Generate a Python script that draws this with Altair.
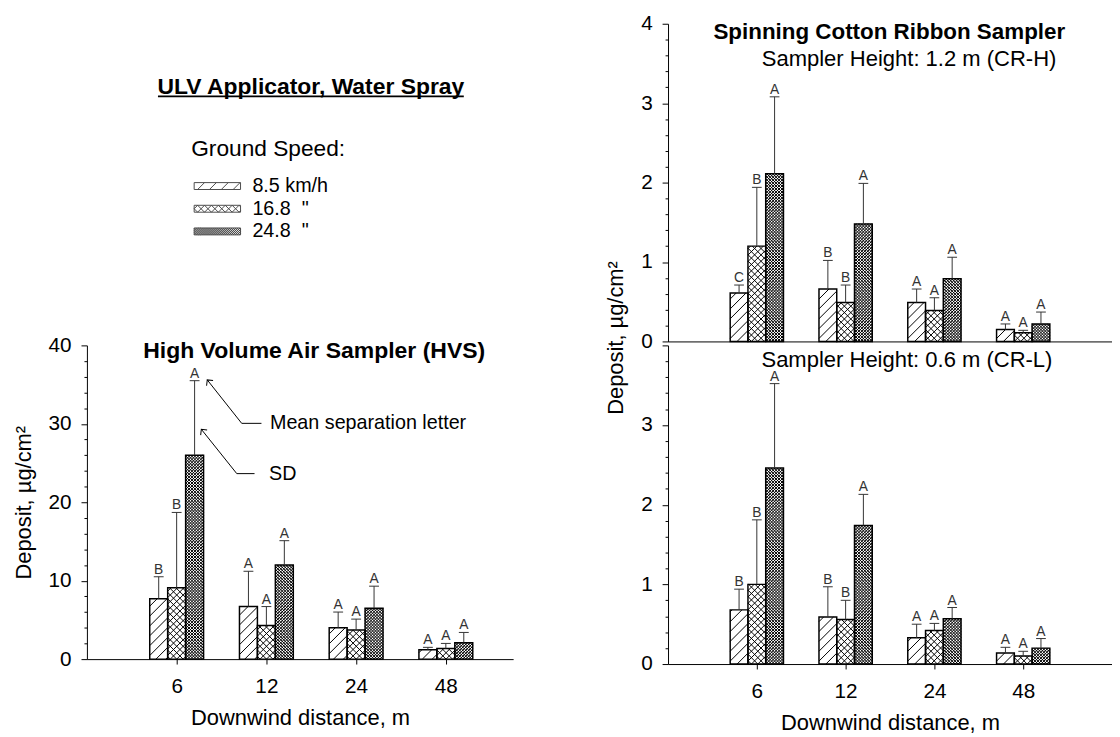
import math
import json
import pandas as pd
import altair as alt

FONT = "Liberation Sans"

# ---------------- data ----------------
distances = ["6", "12", "24", "48"]
speeds = ["8.5 km/h", "16.8\u00a0\u00a0\"", "24.8\u00a0\u00a0\""]

# High Volume Air Sampler (HVS), µg/cm²
hvs_mean_85 = [7.7, 6.7, 4.0, 1.2]
hvs_mean_168 = [9.1, 4.3, 3.7, 1.35]
hvs_mean_248 = [26.0, 12.0, 6.5, 2.1]
hvs_sd_85 = [2.8, 4.5, 2.0, 0.3]
hvs_sd_168 = [9.6, 2.4, 1.4, 0.65]
hvs_sd_248 = [9.5, 3.1, 2.8, 1.3]
hvs_let_85 = ["B", "A", "A", "A"]
hvs_let_168 = ["B", "A", "A", "A"]
hvs_let_248 = ["A", "A", "A", "A"]

# Cotton ribbon, 1.2 m (CR-H)
crh_mean_85 = [0.61, 0.66, 0.49, 0.15]
crh_mean_168 = [1.20, 0.49, 0.39, 0.11]
crh_mean_248 = [2.11, 1.48, 0.79, 0.22]
crh_sd_85 = [0.10, 0.36, 0.17, 0.07]
crh_sd_168 = [0.74, 0.22, 0.16, 0.03]
crh_sd_248 = [0.97, 0.51, 0.27, 0.15]
crh_let_85 = ["C", "B", "A", "A"]
crh_let_168 = ["B", "B", "A", "A"]
crh_let_248 = ["A", "A", "A", "A"]

# Cotton ribbon, 0.6 m (CR-L)
crl_mean_85 = [0.68, 0.59, 0.33, 0.14]
crl_mean_168 = [1.00, 0.56, 0.42, 0.10]
crl_mean_248 = [2.46, 1.74, 0.57, 0.20]
crl_sd_85 = [0.26, 0.38, 0.17, 0.07]
crl_sd_168 = [0.81, 0.24, 0.09, 0.06]
crl_sd_248 = [1.06, 0.39, 0.14, 0.12]
crl_let_85 = ["B", "B", "A", "A"]
crl_let_168 = ["B", "B", "A", "A"]
crl_let_248 = ["A", "A", "A", "A"]

# annotation (HVS panel, data units)
ann_labels = ["Mean separation letter", "SD"]
ann_text_x = [2.04, 2.03]
ann_text_y = [30.06, 23.65]
ann_end_x = [1.945, 1.868]
ann_elbow_x = [1.725, 1.670]
ann_tip_x = [1.341, 1.275]
ann_tip_y = [35.6, 29.3]

# ---------------- layout constants ----------------
BAR_W = 0.2
CAP = 0.055
L_W, L_H, L_XMAX, L_YMAX = 432, 318, 4.75, 40
R_W, R_H1, R_H2, R_XMAX, R_YMAX = 450, 322, 323, 5.0, 4
HEADER_H = 326

# hatch styles: (direction, step px, line width)
PATTERNS = [
    [("/", 10.0, 1.0)],
    [("/", 6.5, 1.0), ("\\", 6.5, 1.0)],
    [("/", 3.0, 1.0), ("\\", 3.0, 1.0)],
]
LEGEND_PATTERNS = [
    [("/", 12.0)],
    [("/", 7.0), ("\\", 7.0)],
    [("/", 2.0), ("\\", 2.0)],
]


def family(X0, X1, Y0, Y1, step, direction):
    segs = []
    if direction == "/":
        cmin, cmax = Y0 - X1, Y1 - X0
        for k in range(math.ceil(cmin / step), math.floor(cmax / step) + 1):
            c = k * step
            xa, xb = max(X0, Y0 - c), min(X1, Y1 - c)
            if xb - xa > 0.2:
                segs.append((xa, xa + c, xb, xb + c))
    else:
        cmin, cmax = X0 + Y0, X1 + Y1
        for k in range(math.ceil(cmin / step), math.floor(cmax / step) + 1):
            c = k * step
            xa, xb = max(X0, c - Y1), min(X1, c - Y0)
            if xb - xa > 0.2:
                segs.append((xa, c - xa, xb, c - xb))
    return segs


def panel_df(means, sds, lets):
    rows = []
    for j in range(3):
        for i in range(4):
            xpos = (i + 1) + (j - 1) * BAR_W
            rows.append(dict(dist=distances[i], speed=speeds[j], j=j, xpos=xpos,
                             x0=xpos - BAR_W / 2, x1=xpos + BAR_W / 2,
                             mean=means[j][i], top=means[j][i] + sds[j][i], zero=0.0,
                             letter=lets[j][i], capl=xpos - CAP, capr=xpos + CAP))
    return pd.DataFrame(rows)


def hatch_df(df, sx, sy):
    segs = []
    for r in df.itertuples():
        X0, X1, Y0, Y1 = r.x0 * sx, r.x1 * sx, 0.0, r.mean * sy
        for direction, step, w in PATTERNS[r.j]:
            for xa, ya, xb, yb in family(X0, X1, Y0, Y1, step, direction):
                segs.append(dict(xa=xa / sx, ya=ya / sy, xb=xb / sx, yb=yb / sy, w=w))
    return pd.DataFrame(segs)


def swatch_path(j, X0=-7.0, W=47.0, H=7.0):
    parts = [f"M{X0},{-H/2}H{X0 + W}V{H/2}H{X0}Z"]
    for direction, step in LEGEND_PATTERNS[j]:
        for xa, ya, xb, yb in family(X0, X0 + W, -H / 2, H / 2, step, direction):
            parts.append(f"M{xa:.2f},{-ya:.2f}L{xb:.2f},{-yb:.2f}")
    return "".join(parts)


label_expr_x = json.dumps([""] + distances) + "[datum.value]"


def bar_layers(df, sx, sy, X, Y):
    """X(field) / Y(field) build encodings sharing one scale and axis."""
    base = alt.Chart(df)
    hdf = hatch_df(df, sx, sy)
    fill = base.mark_rect(fill="white", strokeWidth=0).encode(
        x=X("x0"), x2="x1:Q", y=Y("mean"), y2="zero:Q")
    hatch = alt.Chart(hdf).mark_rule(color="black", strokeCap="butt").encode(
        x=X("xa"), x2="xb:Q", y=Y("ya"), y2="yb:Q",
        strokeWidth=alt.StrokeWidth("w:Q", scale=None))
    outline = base.mark_rect(fill="white", fillOpacity=0, stroke="black", strokeWidth=1.5).encode(
        x=X("x0"), x2="x1:Q", y=Y("mean"), y2="zero:Q")
    err = base.mark_rule(color="#333333", strokeWidth=1).encode(
        x=X("xpos"), y=Y("mean"), y2="top:Q")
    cap = base.mark_rule(color="#333333", strokeWidth=1).encode(
        x=X("capl"), x2="capr:Q", y=Y("top"))
    let = base.mark_text(fontSize=14, baseline="alphabetic", dy=-3, color="#333333").encode(
        x=X("xpos"), y=Y("top"), text="letter:N")
    return [fill, hatch, outline, err, cap, let]


def text_layer(txt, x, y, size, bold=False, align="left"):
    return alt.Chart(pd.DataFrame({"t": [txt]})).mark_text(
        align=align, baseline="alphabetic", fontSize=size,
        fontWeight="bold" if bold else "normal", color="black").encode(
        x=alt.value(x), y=alt.value(y), text="t:N")


def x_axis_full():
    return alt.Axis(values=[1, 2, 3, 4], labelExpr=label_expr_x, title="Downwind distance, m",
                    tickSize=5, labelPadding=12, titlePadding=10, labelFontSize=21,
                    titleFontSize=22.2, grid=False, labelFlush=False, labelOverlap=False)


def y_axis(values, major_test, label_test, title=None, title_y=None):
    kw = dict(values=values,
              labelExpr=f"({label_test}) ? format(datum.value, 'd') : ''",
              tickSize={"condition": {"test": major_test, "value": 6}, "value": 3},
              labelPadding=10, labelFontSize=21, grid=False, labelFlush=False,
              labelOverlap=False, titleFontSize=22.2, titlePadding=13)
    kw["title"] = title
    if title is not None and title_y is not None:
        kw["titleY"] = title_y
        kw["titleAlign"] = "center"
    return alt.Axis(**kw)


def make_xy(xscale, yscale, xaxis, yaxis):
    def X(f):
        return alt.X(f"{f}:Q", scale=xscale, axis=xaxis)

    def Y(f):
        return alt.Y(f"{f}:Q", scale=yscale, axis=yaxis)
    return X, Y


# ---------------- HVS panel ----------------
hvs = panel_df([hvs_mean_85, hvs_mean_168, hvs_mean_248],
               [hvs_sd_85, hvs_sd_168, hvs_sd_248],
               [hvs_let_85, hvs_let_168, hvs_let_248])
lx = alt.Scale(domain=[0, L_XMAX], nice=False, zero=False)
ly = alt.Scale(domain=[0, L_YMAX], nice=False)
LX, LY = make_xy(lx, ly, x_axis_full(),
                 y_axis(list(range(0, 41, 2)), "datum.value % 10 === 0",
                        "datum.value % 10 === 0", title="Deposit, µg/cm²"))
l_layers = bar_layers(hvs, L_W / L_XMAX, L_H / L_YMAX, LX, LY)

ann = pd.DataFrame({"label": ann_labels, "tx": ann_text_x, "ty": ann_text_y,
                    "ex": ann_end_x, "bx": ann_elbow_x, "px": ann_tip_x, "py": ann_tip_y})
ann_h = alt.Chart(ann).mark_rule(color="black", strokeWidth=1).encode(
    x=LX("ex"), x2="bx:Q", y=LY("ty"))
ann_d = alt.Chart(ann).mark_rule(color="black", strokeWidth=1).encode(
    x=LX("bx"), x2="px:Q", y=LY("ty"), y2="py:Q")
ann_head = alt.Chart(ann).mark_point(shape="M-1,1L0,0L1,1", size=70, angle=321.5,
                                     filled=False, color="black", strokeWidth=1, opacity=1).encode(
    x=LX("px"), y=LY("py"))
ann_t = alt.Chart(ann).mark_text(align="left", baseline="middle", fontSize=20, color="black").encode(
    x=LX("tx"), y=LY("ty"), text="label:N")

hvs_chart = alt.layer(*l_layers, ann_h, ann_d, ann_head, ann_t,
                      text_layer("High Volume Air Sampler (HVS)", 57, 12.5, 23.3, bold=True)
                      ).properties(width=L_W, height=L_H)

# ---------------- header (title + legend) ----------------
paths = [swatch_path(j) for j in range(3)]
legend_pts = alt.Chart(pd.DataFrame({"speed": speeds})).transform_filter("false").mark_point(
    color="black", filled=False).encode(
    x=alt.value(0), y=alt.value(0),
    shape=alt.Shape("speed:N", scale=alt.Scale(domain=speeds, range=paths),
                    legend=alt.Legend(orient="none", legendX=105.7, legendY=116.5,
                                      title="Ground Speed:", titleFontSize=23,
                                      titleFontWeight="normal", titleColor="black",
                                      titlePadding=15, labelFontSize=20, labelColor="black",
                                      labelOffset=42, symbolSize=4, symbolStrokeWidth=1,
                                      symbolStrokeColor="black", symbolFillColor="transparent",
                                      rowPadding=3, padding=0, labelLimit=0)))
underline = alt.Chart(pd.DataFrame({"t": [0]})).mark_rule(color="black", strokeWidth=1.8).encode(
    x=alt.value(72), x2=alt.value(382), y=alt.value(73.6))
header = alt.layer(
    text_layer("ULV Applicator, Water Spray", 227, 71, 23.2, bold=True, align="center"),
    underline, legend_pts).properties(width=L_W, height=HEADER_H)

# ---------------- cotton ribbon panels ----------------
rx = alt.Scale(domain=[0, R_XMAX], nice=False, zero=False)
ry = alt.Scale(domain=[0, R_YMAX], nice=False)
r_vals = [round(0.2 * k, 1) for k in range(21)]
major_r = "abs(datum.value - round(datum.value)) < 0.001"

crh = panel_df([crh_mean_85, crh_mean_168, crh_mean_248],
               [crh_sd_85, crh_sd_168, crh_sd_248],
               [crh_let_85, crh_let_168, crh_let_248])
top_xaxis = alt.Axis(values=[1, 2, 3, 4], ticks=False, labels=False, title=None, grid=False)
HX, HY = make_xy(rx, ry, top_xaxis,
                 y_axis(r_vals, major_r, major_r, title="Deposit, µg/cm²", title_y=R_H1 - 4))
crh_chart = alt.layer(*bar_layers(crh, R_W / R_XMAX, R_H1 / R_YMAX, HX, HY),
                      text_layer("Spinning Cotton Ribbon Sampler", 46, 15, 22.7, bold=True),
                      text_layer("Sampler Height: 1.2 m (CR-H)", 95, 43.3, 22.3)
                      ).properties(width=R_W, height=R_H1)

crl = panel_df([crl_mean_85, crl_mean_168, crl_mean_248],
               [crl_sd_85, crl_sd_168, crl_sd_248],
               [crl_let_85, crl_let_168, crl_let_248])
BX, BY = make_xy(rx, ry, x_axis_full(),
                 y_axis(r_vals, major_r, major_r + " && datum.value < 3.5"))
crl_chart = alt.layer(*bar_layers(crl, R_W / R_XMAX, R_H2 / R_YMAX, BX, BY),
                      text_layer("Sampler Height: 0.6 m (CR-L)", 94.7, 21.5, 22.3)
                      ).properties(width=R_W, height=R_H2)

chart = alt.concat(header, crh_chart, hvs_chart, crl_chart, columns=2,
                   spacing={"row": 0, "column": 157}, bounds="flush", align="none").properties(
    padding={"left": 4, "top": 0, "right": 0, "bottom": 0}
).configure(font=FONT).configure_view(stroke=None).configure_axis(
    labelFont=FONT, titleFont=FONT, labelColor="black", titleColor="black",
    domainColor="black", tickColor="black", titleFontWeight="normal", domainWidth=1, tickWidth=1
).configure_legend(labelFont=FONT, titleFont=FONT)

chart.save("out.html", embed_options={"renderer": "svg", "actions": False})
